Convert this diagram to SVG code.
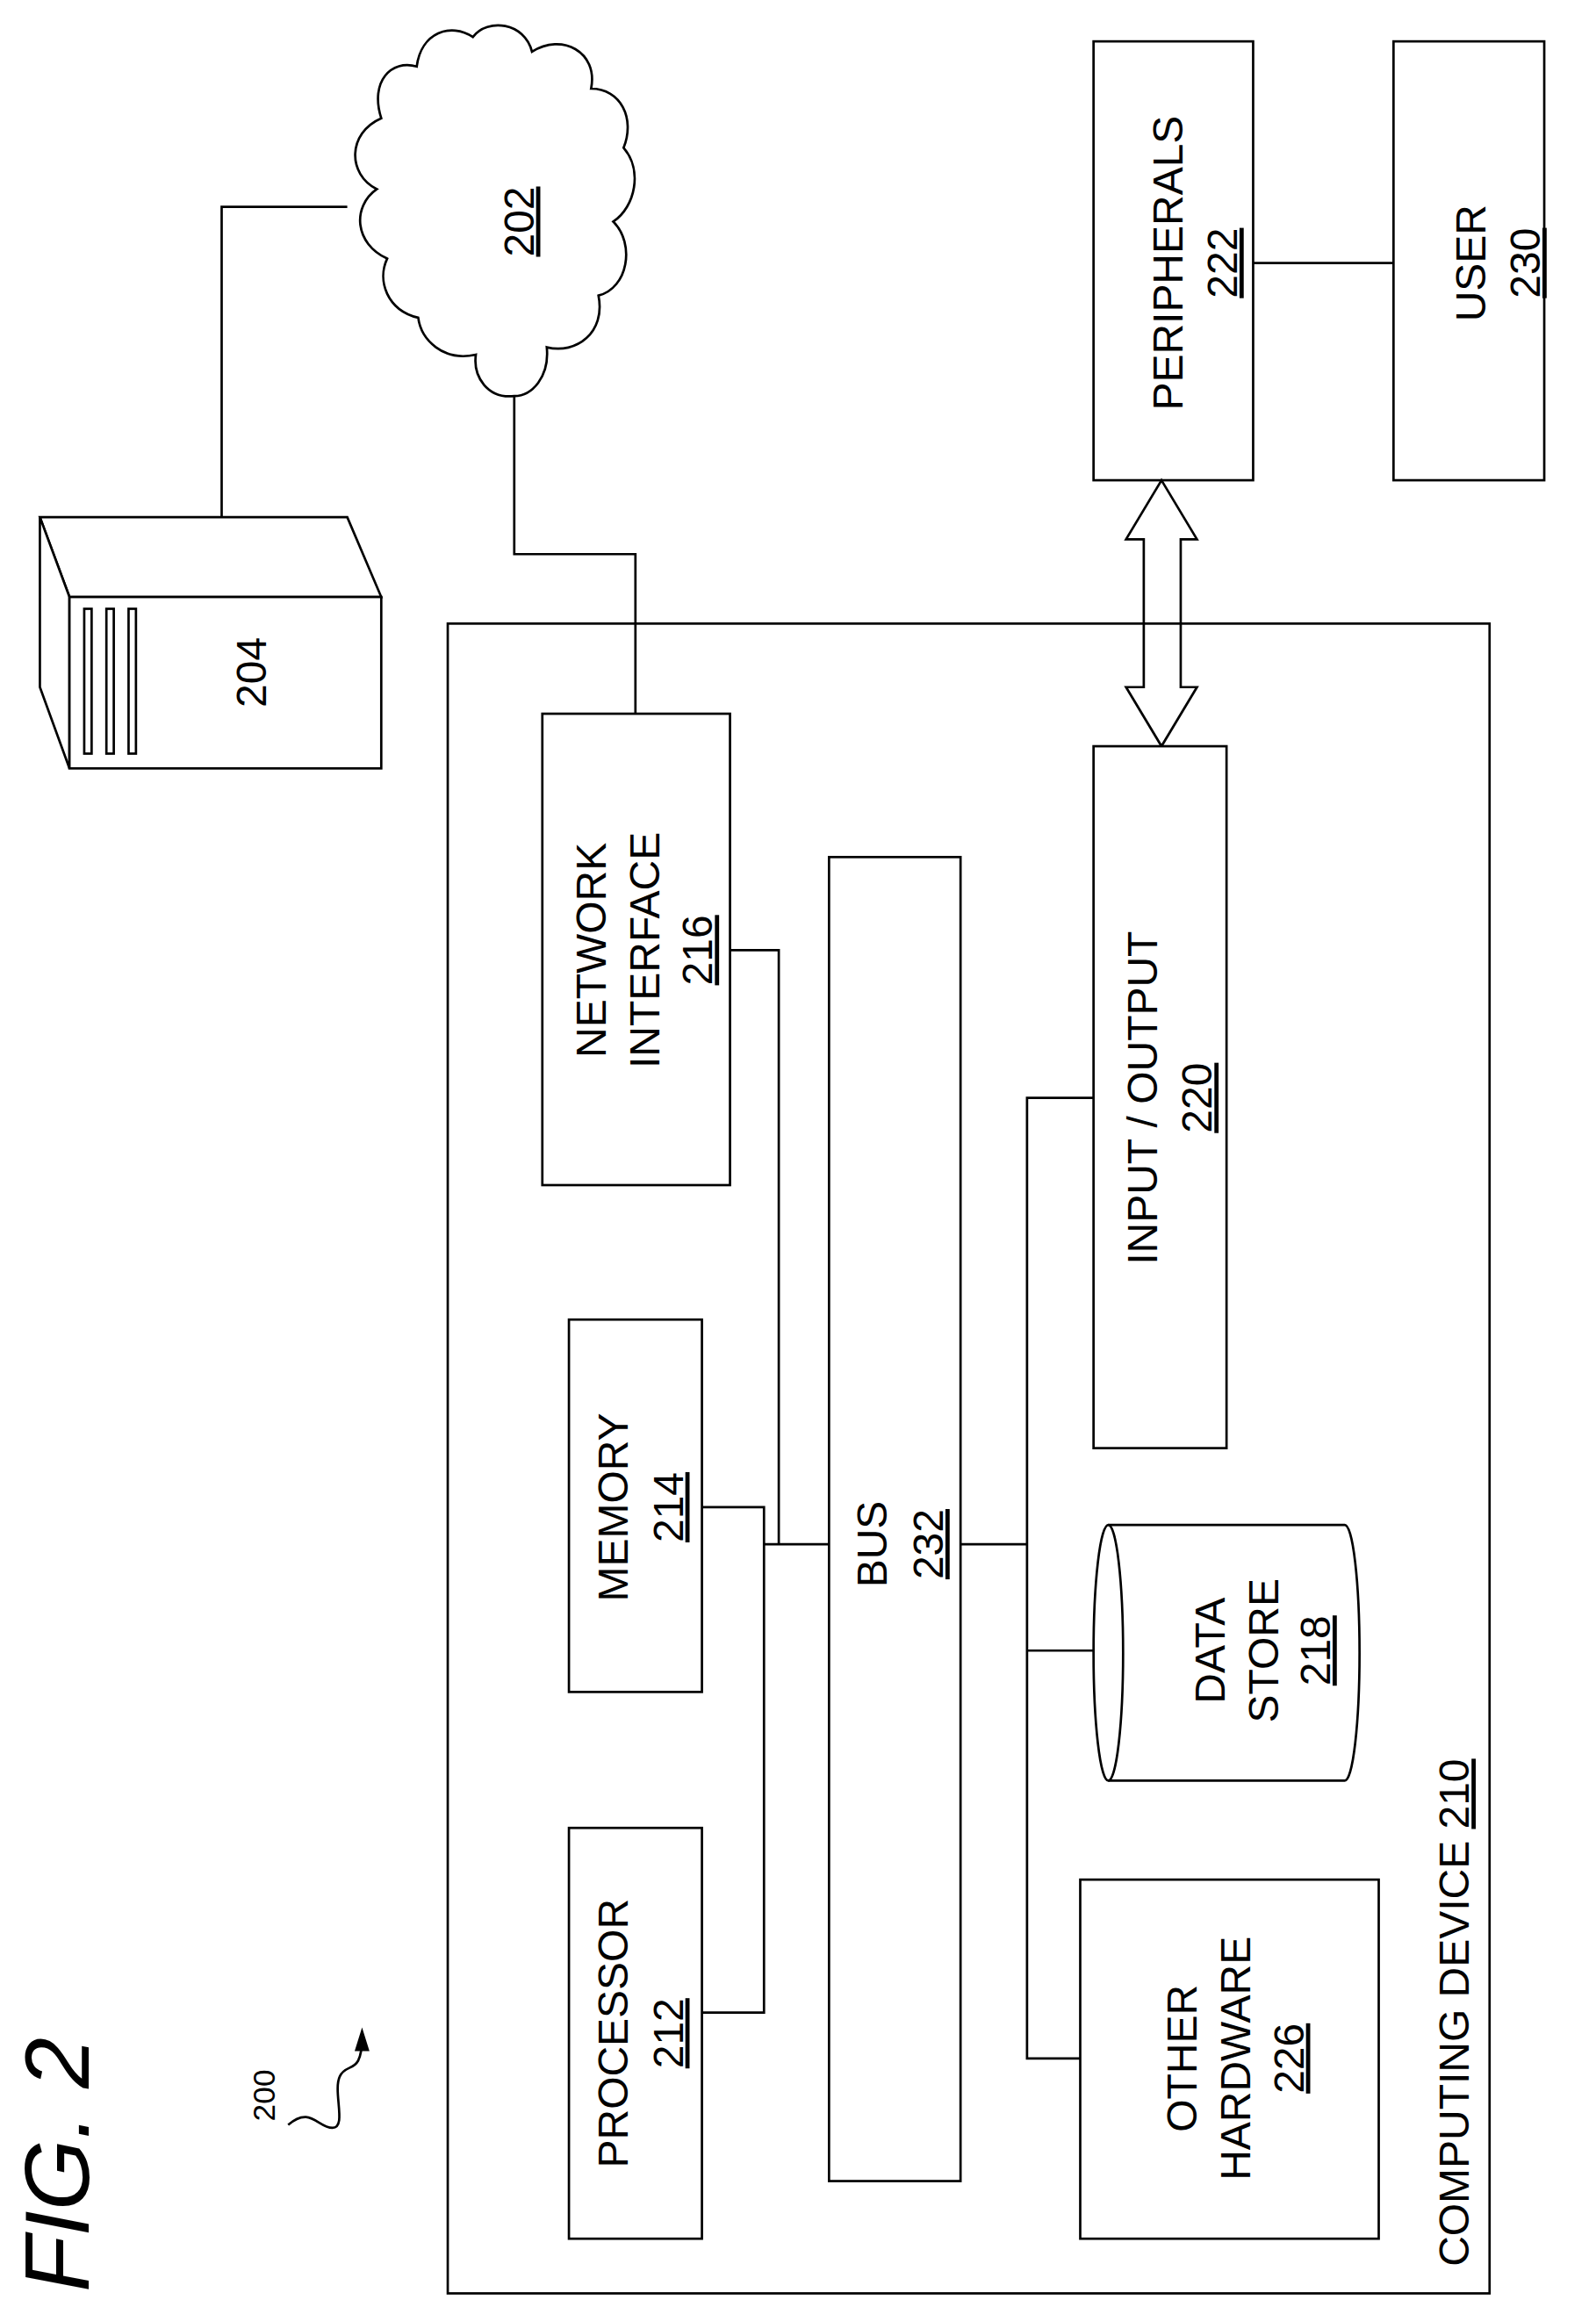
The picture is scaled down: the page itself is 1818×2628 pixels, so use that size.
<svg xmlns="http://www.w3.org/2000/svg" width="1818" height="2628" viewBox="0 0 1818 2628">
<style>
.s{fill:none;stroke:#000;stroke-width:1.6}
.w{fill:#fff;stroke:#000;stroke-width:1.6}
text{font-family:"Liberation Sans",Arial,sans-serif;font-size:28.5px;text-anchor:middle;fill:#000}
.u{text-decoration:underline}
</style>
<rect width="1818" height="2628" fill="#fff"/>
<g transform="scale(1.6833)">
<g id="connectors">
<polyline class="s" points="150,350 150,140 235,140"/>
<polyline class="s" points="348,268 348,375 430,375 430,483"/>
<polyline class="s" points="494,643 527,643 527,1045"/>
<polyline class="s" points="475,1020 517,1020 517,1362 475,1362"/>
<line class="s" x1="517" y1="1045" x2="561" y2="1045"/>
<line class="s" x1="650" y1="1045" x2="695" y2="1045"/>
<polyline class="s" points="740,743 695,743 695,1393 731,1393"/>
<line class="s" x1="695" y1="1117" x2="740" y2="1117"/>
<line class="s" x1="848" y1="178" x2="943" y2="178"/>
<polygon class="w" points="786,325 810,365 799,365 799,465 810,465 786,505 762,465 774,465 774,365 762,365"/>
</g>
<g id="computing-device"><rect class="s" x="303" y="422" width="705" height="1130"/>
<text transform="translate(994,1362) rotate(-90)">COMPUTING DEVICE <tspan class="u">210</tspan></text></g>
<g id="server-204">
<polygon class="w" points="27,350 235,350 258,404 47,404"/>
<polygon class="w" points="27,350 47,404 47,520 27,465"/>
<rect class="w" x="47" y="404" width="211" height="116"/>
<rect class="s" x="57" y="412" width="5" height="98"/><rect class="s" x="72" y="412" width="5" height="98"/><rect class="s" x="87" y="412" width="5" height="98"/>
<text transform="translate(180,455) rotate(-90)">204</text></g>
<g id="cloud-202">
<path class="w" d="M348,268 C330,270 320,255 322,240 C300,245 285,230 283,215 C262,210 255,190 262,175 C240,165 238,140 255,128 C235,118 235,90 258,80 C250,55 265,40 282,45 C285,22 305,15 320,25 C330,12 355,15 360,35 C380,22 405,35 400,60 C420,60 430,80 422,100 C435,115 430,140 415,150 C430,165 425,195 405,200 C410,225 390,240 370,235 C372,255 360,268 348,268 Z"/>
<text class="u" transform="translate(361,150) rotate(-90)">202</text></g>
<g id="peripherals-222"><rect class="s" x="740" y="28" width="108" height="297"/>
<text transform="translate(800,178) rotate(-90)">PERIPHERALS</text><text class="u" transform="translate(837,178) rotate(-90)">222</text></g>
<g id="user-230"><rect class="s" x="943" y="28" width="102" height="297"/>
<text transform="translate(1005,178) rotate(-90)">USER</text><text class="u" transform="translate(1042,178) rotate(-90)">230</text></g>
<g id="network-interface-216"><rect class="w" x="367" y="483" width="127" height="319"/>
<text transform="translate(410,643) rotate(-90)">NETWORK</text><text transform="translate(446,643) rotate(-90)">INTERFACE</text><text class="u" transform="translate(482,643) rotate(-90)">216</text></g>
<g id="io-220"><rect class="w" x="740" y="505" width="90" height="475"/>
<text transform="translate(783,743) rotate(-90)">INPUT / OUTPUT</text><text class="u" transform="translate(820,743) rotate(-90)">220</text></g>
<g id="bus-232"><rect class="w" x="561" y="580" width="89" height="896"/>
<text transform="translate(600,1045) rotate(-90)">BUS</text><text class="u" transform="translate(638,1045) rotate(-90)">232</text></g>
<g id="memory-214"><rect class="w" x="385" y="893" width="90" height="252"/>
<text transform="translate(425,1020) rotate(-90)">MEMORY</text><text class="u" transform="translate(462,1020) rotate(-90)">214</text></g>
<g id="processor-212"><rect class="w" x="385" y="1237" width="90" height="278"/>
<text transform="translate(425,1376) rotate(-90)">PROCESSOR</text><text class="u" transform="translate(462,1376) rotate(-90)">212</text></g>
<g id="data-store-218">
<path class="w" d="M750,1032 L910,1032 A10,86.5 0 0 1 910,1205 L750,1205 A10,86.5 0 0 1 750,1032 Z"/>
<path class="s" d="M750,1032 A10,86.5 0 0 1 750,1205"/>
<text transform="translate(829,1117) rotate(-90)">DATA</text><text transform="translate(865,1117) rotate(-90)">STORE</text><text class="u" transform="translate(900,1117) rotate(-90)">218</text></g>
<g id="other-hardware-226"><rect class="w" x="731" y="1272" width="202" height="243"/>
<text transform="translate(810,1393) rotate(-90)">OTHER</text><text transform="translate(846,1393) rotate(-90)">HARDWARE</text><text class="u" transform="translate(882,1393) rotate(-90)">226</text></g>
<g id="label-200">
<text style="font-size:21px" transform="translate(186,1418) rotate(-90)">200</text>
<path class="s" d="M195,1438 C210,1425 215,1440 225,1440 C235,1440 225,1415 230,1405 C235,1395 245,1405 245,1378"/>
<polygon points="245,1372 240,1388 250,1388" fill="#000"/>
</g>
<g id="fig"><text style="font-size:62px;font-style:italic" transform="translate(60,1465) rotate(-90)">FIG. 2</text></g>
</g>
</svg>
